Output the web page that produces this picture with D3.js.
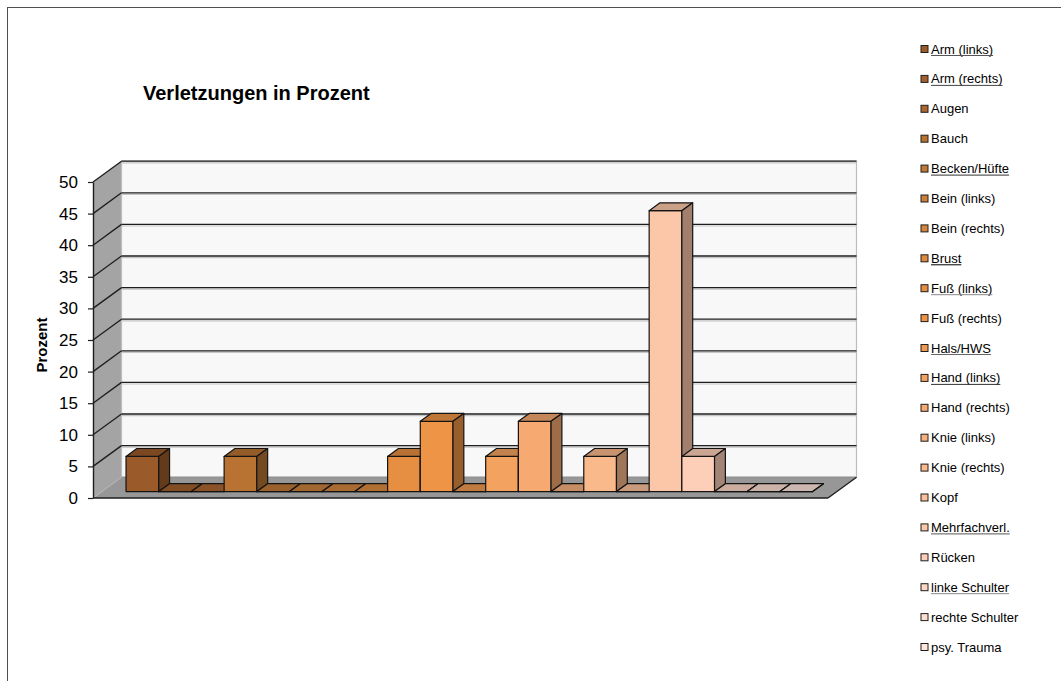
<!DOCTYPE html>
<html>
<head>
<meta charset="utf-8">
<script src="https://cdn.jsdelivr.net/npm/d3@7"></script>
<style>
  body { margin: 0; background: #fff; }
  svg { display: block; }
  text { font-family: "Liberation Sans", Arial, sans-serif; fill: #000; }
</style>
</head>
<body>
<svg id="chart" width="1061" height="681"></svg>
<script>
// Injury categories (one series each) and their share in percent
const categories = [
  "Arm (links)", "Arm (rechts)", "Augen", "Bauch", "Becken/Hüfte",
  "Bein (links)", "Bein (rechts)", "Brust", "Fuß (links)", "Fuß (rechts)",
  "Hals/HWS", "Hand (links)", "Hand (rechts)", "Knie (links)", "Knie (rechts)",
  "Kopf", "Mehrfachverl.", "Rücken", "linke Schulter", "rechte Schulter",
  "psy. Trauma"
];
const values = [
  5.56, 0, 0, 5.56, 0,
  0, 0, 0, 5.56, 11.11,
  0, 5.56, 11.11, 0, 5.56,
  0, 44.44, 5.56, 0, 0,
  0
];
const yTicks = [0, 5, 10, 15, 20, 25, 30, 35, 40, 45, 50];

// Series fill colours, dark brown through to pale peach
const colors = [
  "#9a5a29", "#a3602c", "#ac662f", "#b87333", "#c07937",
  "#ca7f3b", "#d4853e", "#dd8a40", "#e68e42", "#ee9446",
  "#f19a51", "#f4a260", "#f6a970", "#f8b17e", "#fab98b",
  "#fbc09a", "#fcc7a9", "#fdcfb8", "#fdd7c5", "#fddfd1",
  "#fee6dc"
];
// Legend entries rendered as links, with their underline shade
const linkedEntries = ["Arm (links)", "Arm (rechts)", "Becken/Hüfte", "Brust",
  "Fuß (links)", "Hals/HWS", "Hand (links)", "Mehrfachverl.", "linke Schulter"];
const linkShades = ["#555", "#444", "#333", "#000", "#888", "#666", "#333", "#555", "#888"];

const W = 1061, H = 681;
const svg = d3.select("#chart");

// outer frame
svg.append("rect")
  .attr("x", 7.5).attr("y", 7.5)
  .attr("width", W).attr("height", H)
  .attr("fill", "none").attr("stroke", "#505050").attr("stroke-width", 1);

// front-plane scales
const x = d3.scaleBand().domain(categories).range([93, 828])
  .paddingInner(0).paddingOuter(0.74);
const y = d3.scaleLinear().domain([0, 50]).range([498, 182]);

// oblique depth projection: z = 0 front, z = 1 back wall
const DX = 28.5, DY = -20.8;
const P = (px, py, z) => [px + z * DX, py + z * DY];
const pts = arr => arr.map(p => p[0].toFixed(2) + "," + p[1].toFixed(2)).join(" ");
const line = (a, b) => ({ x1: a[0], y1: a[1], x2: b[0], y2: b[1] });

const [xL, xR] = x.range();
const yB = y(0), yT = y(50);

const walls = svg.append("g");
// side wall
walls.append("polygon")
  .attr("points", pts([P(xL, yB, 0), P(xL, yT, 0), P(xL, yT, 1), P(xL, yB, 1)]))
  .attr("fill", "#a4a4a4");
// back wall
walls.append("polygon")
  .attr("points", pts([P(xL, yB, 1), P(xL, yT, 1), P(xR, yT, 1), P(xR, yB, 1)]))
  .attr("fill", "#f8f8f8").attr("stroke", "#bdbdbd").attr("stroke-width", 1.2);
// floor
walls.append("polygon")
  .attr("points", pts([P(xL, yB, 0), P(xR, yB, 0), P(xR, yB, 1), P(xL, yB, 1)]))
  .attr("fill", "#979797");

// gridlines on back and side walls
const grid = svg.append("g");
yTicks.filter(t => t > 0).forEach(t => {
  const a = P(xL, y(t), 1), b = P(xR, y(t), 1);
  const s = line([a[0], a[1] + 1.6], [b[0], b[1] + 1.6]);
  grid.append("line").attr("x1", s.x1).attr("y1", s.y1).attr("x2", s.x2).attr("y2", s.y2)
    .attr("stroke", "#c4c4c4").attr("stroke-width", 1.2);
  const g = line(a, b);
  grid.append("line").attr("x1", g.x1).attr("y1", g.y1).attr("x2", g.x2).attr("y2", g.y2)
    .attr("stroke", "#1e1e1e").attr("stroke-width", 1.3);
  const sw = line(P(xL, y(t), 0), a);
  grid.append("line").attr("x1", sw.x1).attr("y1", sw.y1).attr("x2", sw.x2).attr("y2", sw.y2)
    .attr("stroke", "#1e1e1e").attr("stroke-width", 1.3);
});
// floor/back wall seam and floor/side wall seam
{
  const s1 = line(P(xL, yB, 1), P(xR, yB, 1));
  grid.append("line").attr("x1", s1.x1).attr("y1", s1.y1).attr("x2", s1.x2).attr("y2", s1.y2)
    .attr("stroke", "#8a8a8a").attr("stroke-width", 1);
  const s2 = line(P(xL, yB, 0), P(xL, yB, 1));
  grid.append("line").attr("x1", s2.x1).attr("y1", s2.y1).attr("x2", s2.x2).attr("y2", s2.y2)
    .attr("stroke", "#b8b8b8").attr("stroke-width", 1);
}

// 3D columns, drawn left to right so each front face covers the previous side face
const Z0 = 0.31, Z1 = 0.69;
const bars = svg.append("g")
  .attr("stroke", "#141414").attr("stroke-width", 1.2).attr("stroke-linejoin", "round");
categories.forEach((c, i) => {
  const x0 = x(c), x1 = x0 + x.bandwidth();
  const yt = y(values[i]);
  const base = d3.color(colors[i]);
  const g = bars.append("g");
  g.append("polygon").attr("class", "front")
    .attr("points", pts([P(x0, yt, Z0), P(x1, yt, Z0), P(x1, yB, Z0), P(x0, yB, Z0)]))
    .attr("fill", base.formatHex());
  g.append("polygon").attr("class", "top")
    .attr("points", pts([P(x0, yt, Z0), P(x1, yt, Z0), P(x1, yt, Z1), P(x0, yt, Z1)]))
    .attr("fill", base.darker(0.62).formatHex());
  g.append("polygon").attr("class", "side")
    .attr("points", pts([P(x1, yt, Z0), P(x1, yt, Z1), P(x1, yB, Z1), P(x1, yB, Z0)]))
    .attr("fill", base.darker(1.25).formatHex());
});

// floor front and right edges
{
  const e1 = line(P(xL, yB, 0), P(xR, yB, 0));
  svg.append("line").attr("x1", e1.x1).attr("y1", e1.y1).attr("x2", e1.x2).attr("y2", e1.y2)
    .attr("stroke", "#1e1e1e").attr("stroke-width", 1.4);
  const e2 = line(P(xR, yB, 0), P(xR, yB, 1));
  svg.append("line").attr("x1", e2.x1).attr("y1", e2.y1).attr("x2", e2.x2).attr("y2", e2.y2)
    .attr("stroke", "#1e1e1e").attr("stroke-width", 1.4);
}

// value axis on the front left edge
const axis = d3.axisLeft(y).tickValues(yTicks).tickSizeInner(5).tickSizeOuter(0).tickPadding(10);
const ax = svg.append("g").attr("transform", `translate(${xL},0)`).call(axis);
ax.select(".domain").attr("stroke", "#1e1e1e").attr("stroke-width", 1.4);
ax.selectAll(".tick line").attr("stroke", "#1e1e1e").attr("stroke-width", 1.2);
ax.selectAll(".tick text")
  .style("font-family", '"Liberation Sans", Arial, sans-serif')
  .style("font-size", "17px").attr("fill", "#000");

// axis title
svg.append("text")
  .attr("transform", "translate(47,345) rotate(-90)")
  .attr("text-anchor", "middle")
  .style("font-size", "15px").style("font-weight", "bold")
  .text("Prozent");

// chart title
svg.append("text")
  .attr("x", 143).attr("y", 100)
  .style("font-size", "20px").style("font-weight", "bold")
  .text("Verletzungen in Prozent");

// legend
const rowY = d3.scaleLinear().domain([0, categories.length - 1]).range([49, 647]);
const legend = svg.append("g");
categories.forEach((c, i) => {
  const cy = rowY(i);
  legend.append("rect")
    .attr("x", 921).attr("y", cy - 3.5).attr("width", 7).attr("height", 7)
    .attr("fill", colors[i]).attr("stroke", "#1e1e1e").attr("stroke-width", 1);
  const t = legend.append("text")
    .attr("x", 931).attr("y", cy + 4.5)
    .style("font-size", "13px")
    .text(c);
  const k = linkedEntries.indexOf(c);
  if (k >= 0) {
    const len = t.node().getComputedTextLength();
    legend.append("line")
      .attr("x1", 931).attr("x2", 931 + len)
      .attr("y1", cy + 6.5).attr("y2", cy + 6.5)
      .attr("stroke", linkShades[k]).attr("stroke-width", 1);
  }
});
</script>
</body>
</html>
